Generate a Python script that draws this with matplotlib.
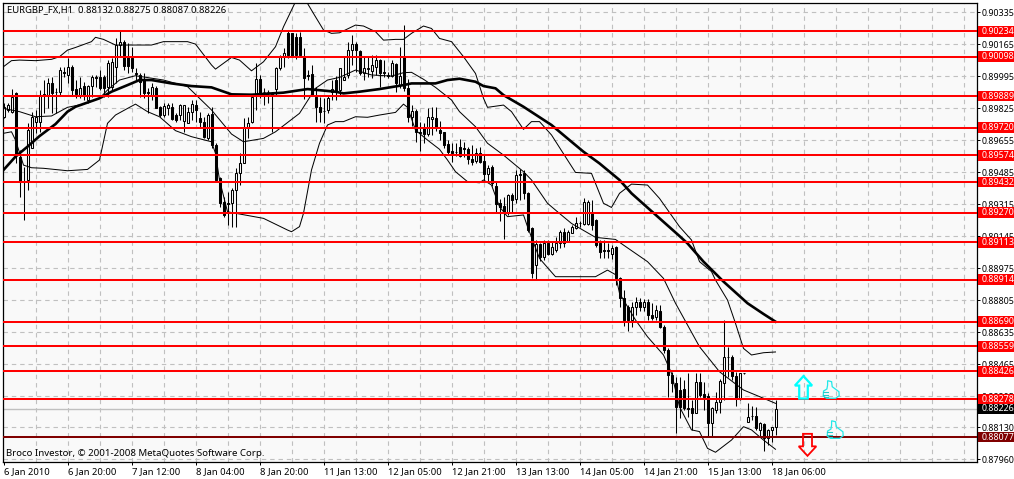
import numpy as np
import matplotlib
matplotlib.use("Agg")
import matplotlib.pyplot as plt
from matplotlib.patches import Polygon, Rectangle
from matplotlib.transforms import blended_transform_factory

plt.rcParams['font.family'] = ['Noto Sans', 'DejaVu Sans']

# candles, in 1/100000 of a price unit
opens = [89779,89814,89806,89903,89567,89434,89443,89611,89753,89753,
    89894,89894,89956,89912,89912,90018,90001,90045,89924,89894,
    89942,89868,89942,89988,89992,89992,89935,89939,90045,90160,
    90178,90098,90089,90009,90001,89974,89910,89894,89930,89832,
    89788,89823,89832,89788,89788,89758,89744,89806,89841,89770,
    89753,89664,89793,89629,89452,89328,89319,89319,89390,89482,
    89532,89717,89753,89894,89977,89912,89912,89903,89924,90036,
    90098,90222,90222,90201,90201,90098,90001,90006,89885,89832,
    89811,89814,89912,89974,89921,89974,90001,90133,90163,90128,
    90009,90032,90023,90045,90080,90018,90001,89995,90057,89947,
    90094,89930,89776,89809,89696,89717,89685,89765,89774,89708,
    89698,89634,89598,89593,89620,89611,89606,89552,89542,89588,
    89544,89475,89514,89411,89319,89304,89265,89363,89340,89475,
    89482,89375,89186,88991,89103,89035,89110,89049,89071,89110,
    89168,89120,89163,89188,89216,89209,89209,89274,89230,89106,
    89071,89071,89049,89085,88924,88814,88770,88699,88770,88796,
    88770,88796,88726,88713,88749,88664,88540,88407,88362,88327,
    88331,88230,88230,88207,88371,88304,88295,88150,88221,88265,
    88366,88504,88504,88401,88277,88416,88159,88191,88191,88115,
    88146,88070,88115,88132]
highs = [89850,89850,89924,89912,89602,89514,89744,89806,89814,89921,
    89974,89983,89992,89930,90045,90045,90089,90054,89974,89992,
    89965,89947,90001,90001,90027,90001,90080,90089,90195,90240,
    90186,90169,90151,90036,90013,90013,89930,89956,89942,89836,
    89850,89850,89850,89797,89846,89841,89832,89868,89868,89806,
    89779,89800,89829,89638,89460,89354,89381,89398,89505,89584,
    89770,89779,89894,90062,90001,89930,89921,89912,90045,90107,
    90142,90240,90225,90222,90229,90142,90027,90054,89939,89885,
    89877,89894,89974,89995,90036,90098,90178,90213,90178,90133,
    90098,90098,90107,90107,90084,90080,90018,90080,90062,90151,
    90266,89978,89841,89818,89753,89744,89827,89829,89829,89758,
    89699,89655,89638,89638,89659,89646,89620,89629,89611,89620,
    89575,89522,89522,89434,89340,89351,89368,89372,89496,89499,
    89496,89381,89191,89124,89106,89124,89124,89115,89138,89177,
    89186,89177,89204,89248,89227,89345,89336,89336,89234,89124,
    89124,89106,89097,89092,88929,88858,88779,88796,88823,88814,
    88809,88809,88788,88779,88779,88672,88548,88424,88398,88398,
    88380,88419,88274,88416,88416,88371,88309,88238,88318,88384,
    88699,88554,88513,88424,88419,88418,88256,88244,88238,88159,
    88150,88118,88132,88275]
lows = [89770,89806,89797,89532,89354,89230,89390,89699,89691,89699,
    89797,89823,89797,89797,89894,89992,89956,89894,89877,89877,
    89868,89850,89885,89939,89921,89885,89885,89921,89956,90098,
    90027,90009,90018,89974,89885,89877,89797,89868,89823,89779,
    89779,89788,89761,89753,89761,89699,89744,89761,89753,89717,
    89664,89655,89611,89434,89301,89248,89203,89195,89195,89416,
    89532,89664,89744,89814,89877,89841,89850,89699,89894,90027,
    90045,90089,90098,90084,90098,89871,89974,89889,89753,89753,
    89744,89797,89868,89868,89894,89974,89983,90054,90018,90001,
    89974,89992,89983,90001,89939,89992,89983,89992,89912,89930,
    89917,89753,89730,89646,89598,89638,89676,89682,89705,89655,
    89611,89575,89540,89570,89567,89567,89528,89522,89531,89531,
    89443,89434,89411,89274,89227,89129,89257,89265,89319,89336,
    89340,89168,88920,88915,89014,89018,89044,89044,89062,89080,
    89088,89115,89159,89181,89195,89204,89204,89177,89088,89026,
    89026,89026,89021,88885,88770,88667,88642,88664,88726,88749,
    88749,88699,88699,88699,88655,88525,88292,88318,88097,88177,
    88221,88185,88115,88203,88292,88221,88079,88079,88203,88203,
    88274,88398,88380,88242,88274,88414,88159,88168,88115,88079,
    88005,88035,88053,88087]
closes = [89832,89841,89885,89575,89434,89430,89708,89779,89779,89894,
    89898,89956,89903,89908,90027,90014,90041,89921,89900,89930,
    89894,89942,89988,89984,89930,89930,90062,90071,90160,90178,
    90048,90048,90036,90005,89965,89907,89903,89935,89823,89788,
    89836,89841,89765,89761,89841,89841,89806,89846,89814,89753,
    89669,89788,89629,89443,89319,89257,89315,89390,89482,89532,
    89726,89747,89885,89977,89903,89908,89908,89899,90036,90098,
    90119,90107,90101,90107,90107,89983,89997,89894,89832,89806,
    89807,89877,89924,89912,90036,89992,90133,90163,90133,90009,
    90036,90036,90054,90080,90013,90014,89997,90062,89956,89995,
    89930,89776,89809,89696,89692,89685,89779,89779,89717,89694,
    89629,89593,89588,89589,89570,89607,89552,89540,89588,89540,
    89475,89505,89425,89315,89301,89265,89363,89336,89469,89471,
    89372,89177,88947,89103,89032,89106,89049,89088,89106,89168,
    89110,89168,89195,89216,89212,89327,89327,89204,89097,89062,
    89067,89067,89080,88920,88814,88699,88699,88770,88796,88770,
    88796,88726,88708,88752,88664,88540,88407,88362,88238,88238,
    88230,88226,88207,88371,88300,88292,88150,88230,88265,88377,
    88504,88500,88401,88277,88416,88416,88185,88187,88123,88150,
    88070,88115,88129,88226]

# indicator lines, read at the bars listed
upper_bars = [0,2,4,8,12,14,16,18,22,23,25,28,32,37,40,46,48,52,53,57,59,62,65,68,70,73,75,76,78,80,82,84,
    88,90,93,95,98,100,102,105,107,109,112,115,118,120,121,125,127,130,132,134,137,141,143,147,148,150,152,154,157,161,164,169,
    172,174,177,178,181,183,185,187,190,193]
upper_vals = [90045,90077,90080,90077,90084,90098,90133,90147,90178,90201,90190,90160,90160,90160,90178,90178,90165,90054,90032,90094,90080,90023,90071,90151,90257,90390,90434,90381,90310,90240,90222,90225,
    90266,90261,90231,90186,90190,90190,90222,90261,90248,90195,90178,90098,90009,89877,89829,89841,89806,89712,89753,89753,89682,89549,89483,89478,89425,89319,89297,89372,89421,89416,89345,89195,
    89124,89009,88956,88911,88805,88681,88548,88513,88525,88529]
middle_bars = [0,4,8,12,16,20,24,26,29,33,40,46,52,57,60,65,68,74,78,81,84,
    88,92,97,100,102,105,108,112,114,118,121,125,128,130,132,136,139,142,148,153,155,161,165,168,174,179,185,190,193]
middle_vals = [89823,89806,89779,89783,89829,89846,89877,89921,89974,89997,89974,89939,89815,89687,89646,89664,89699,89797,89930,89974,89988,
    90027,90001,89995,90013,90015,89978,89935,89868,89806,89726,89638,89575,89522,89487,89443,89319,89265,89212,89138,89127,89097,89009,88920,88788,88557,88424,88327,88283,88256]
lower_bars = [0,2,3,5,7,10,16,21,24,26,28,31,33,36,39,43,47,52,53,54,56,58,65,71,72,74,75,77,79,81,83,
    85,88,91,94,98,100,101,103,106,109,111,113,116,119,120,122,124,126,130,131,134,138,143,148,151,153,154,158,161,165,167,169,172,174,176,178,182,185,187,190,193]
lower_vals = [89691,89699,89655,89522,89508,89505,89492,89499,89549,89744,89788,89823,89846,89806,89779,89705,89673,89646,89584,89443,89274,89266,89239,89177,89168,89195,89266,89496,89638,89735,89753,
    89753,89779,89776,89788,89802,89846,89829,89708,89655,89606,89549,89487,89434,89428,89443,89416,89301,89248,89257,89195,89026,88929,88929,88929,88964,88940,88841,88699,88610,88513,88416,88238,88115,88106,88017,87996,88061,88132,88115,88061,88012]
ma_bars = [0,3,6,9,13,16,18,24,27,31,34,37,42,47,52,57,62,70,76,83,
    85,89,94,100,102,108,111,114,118,120,123,125,130,137,142,145,149,154,157,160,169,171,175,180,186,190,193]
ma_vals = [89496,89567,89620,89676,89740,89806,89832,89877,89912,89947,89974,89974,89956,89942,89935,89898,89896,89907,89926,89912,
    89903,89912,89926,89947,89956,89956,89974,89981,89965,89942,89930,89894,89832,89735,89646,89593,89531,89443,89372,89315,89145,89106,89009,88903,88788,88731,88690]

# horizontal levels drawn by hand on the chart
red_levels = [0.90234,0.90098,0.89889,0.89720,0.89574,0.89432,0.89270,0.89113,0.88914,0.88690,0.88559,0.88426,0.88278]
support_level = 0.88077
last_price = 0.88226

y_ticks = [0.90335,0.90165,0.89995,0.89825,0.89655,0.89485,0.89315,0.89145,0.88975,0.88805,0.88635,0.88465,0.88295,0.88130,0.87960]
x_labels = ['6 Jan 2010','6 Jan 20:00','7 Jan 12:00','8 Jan 04:00','8 Jan 20:00','11 Jan 13:00','12 Jan 05:00',
    '12 Jan 21:00','13 Jan 13:00','14 Jan 05:00','14 Jan 21:00','15 Jan 13:00','18 Jan 06:00']

o = np.array(opens) / 1e5
h = np.array(highs) / 1e5
l = np.array(lows) / 1e5
c = np.array(closes) / 1e5
bars = np.arange(len(o))

FONT = 6.8
FONT_PRICE = 6.4  # the price column has to fit between the axes and the edge
BAR_PX = 4
PRICE_PX = 0.00005313

fig = plt.figure(figsize=(10.14, 4.79), dpi=100, facecolor='white')
ax = fig.add_axes([2.5 / 1014, 17.5 / 479, 974 / 1014, 459 / 479], facecolor='#f9f9f9')
ax.set_xlim(-0.25, 243.25)
ax.set_ylim(0.87947, 0.90386)
ax.set_axisbelow(True)

# grid and axes
ax.set_xticks(np.arange(0, 193, 16))
ax.set_xticklabels(x_labels, ha='left', fontsize=FONT)
ax.set_xticks(np.arange(8, 241, 8), minor=True)
ax.yaxis.tick_right()
ax.set_yticks(y_ticks)
ax.set_yticklabels(['%.5f' % t for t in y_ticks], fontsize=FONT_PRICE)
ax.tick_params(axis='both', which='major', length=2.5, width=0.72, pad=1.5, color='black')
ax.tick_params(axis='x', which='minor', length=0)
ax.grid(True, which='both', color='#c0c0c0', lw=0.8, linestyle=(0, (4, 3.5)))
ax.xaxis.get_gridlines()[0].set_visible(False)
for s in ax.spines.values():
    s.set_linewidth(0.9)

# levels
ax.axhline(last_price, color='#c0c0c0', lw=1.0, zorder=1)
for lv in red_levels:
    ax.axhline(lv, color='#ff0000', lw=1.45, zorder=4)
ax.axhline(support_level, color='#800000', lw=1.45, zorder=4)

# candles
body_low = np.minimum(o, c)
body_high = np.maximum(o, c)
colors = ['white' if cl > op else 'black' for op, cl in zip(o, c)]
ax.vlines(bars, l, h, color='black', lw=0.75, zorder=2)
ax.bar(bars, body_high - body_low, bottom=body_low, width=0.5, color=colors, edgecolor='black', lw=0.75, zorder=3)

# indicators
ax.plot(upper_bars, np.array(upper_vals) / 1e5, color='black', lw=0.72, zorder=3)
ax.plot(middle_bars, np.array(middle_vals) / 1e5, color='black', lw=0.72, zorder=3)
ax.plot(lower_bars, np.array(lower_vals) / 1e5, color='black', lw=0.72, zorder=3)
ax.plot(ma_bars, np.array(ma_vals) / 1e5, color='black', lw=1.9, zorder=3.5)

# price tags on the right
tag_tr = blended_transform_factory(fig.transFigure, ax.transData)
tags = [(lv, '#ff0000') for lv in red_levels] + [(support_level, '#800000'), (last_price, 'black')]
for lv, col in tags:
    ax.add_patch(Rectangle((978 / 1014, lv - 0.00029), 36 / 1014, 0.00058, transform=tag_tr,
        facecolor=col, edgecolor='none', clip_on=False, zorder=6))
    ax.text(982 / 1014, lv, '%.5f' % lv, transform=tag_tr, color='white', fontsize=FONT_PRICE,
        va='center', ha='left', clip_on=False, zorder=7)

# header and copyright
ax.text(7 / 1014, 1 - 10 / 479, 'EURGBP_FX,H1  0.88132 0.88275 0.88087 0.88226', transform=fig.transFigure,
    fontsize=FONT, va='center', color='black', zorder=8)
ax.text(6 / 1014, 1 - 454 / 479, 'Broco Investor, © 2001-2008 MetaQuotes Software Corp.', transform=fig.transFigure,
    fontsize=6.95, va='center', color='black', zorder=8)

# arrows and thumbs, shapes given in pixels around an anchor bar/price
def shape(bar, price, px_x, px_y, edge, lw=1.3):
    xs = bar + np.array(px_x) / BAR_PX
    ys = price - np.array(px_y) * PRICE_PX
    ax.add_patch(Polygon(np.column_stack([xs, ys]), closed=True, facecolor='none', edgecolor=edge, lw=lw, zorder=5))

arrow_up_x = [0, 8.6, 4.3, 4.3, -4.3, -4.3, -8.6]
arrow_up_y = [0, 9.5, 9.5, 22.5, 22.5, 9.5, 9.5]
arrow_dn_x = [-4.5, 4.5, 4.5, 8.8, 0, -8.8, -4.5]
arrow_dn_y = [0, 0, 12.5, 12.5, 22, 12.5, 12.5]
shape(200, 0.88401, arrow_up_x, arrow_up_y, '#00ffff', lw=1.6)
shape(201, 0.88094, arrow_dn_x, arrow_dn_y, '#ff0000', lw=1.3)

thumb_x = [-2.3, 1.7, 2.3, 9, 9.3, 5.7, -3.3, -6.7, -6.3, -3, -2.3]
thumb_y = [-9.3, -8.3, -3.3, 1.7, 5.7, 8.3, 8.3, 6, 1, -1, -5]
finger_x = [[-6.7, -1.7], [-6.7, -1.7], [-6, -1.7]]
finger_y = [[2.3, 2.3], [5, 5], [7.3, 7.3]]
for bar_t, price_t in [(206.6, 0.88327), (207.6, 0.88114)]:
    shape(bar_t, price_t, thumb_x, thumb_y, '#22e8e8', lw=0.9)
    for fx, fy in zip(finger_x, finger_y):
        ax.plot(bar_t + np.array(fx) / BAR_PX, price_t - np.array(fy) * PRICE_PX, color='#22c8c8', lw=0.8, zorder=5)

fig.savefig('out.png', dpi=100, facecolor='white')
